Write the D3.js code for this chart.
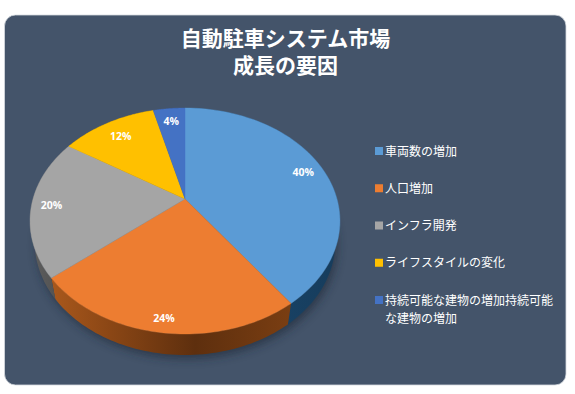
<!DOCTYPE html>
<html lang="ja"><head><meta charset="utf-8">
<script src="https://cdn.jsdelivr.net/npm/d3@7/dist/d3.min.js"></script>
<style>html,body{margin:0;padding:0;background:#fff}svg{display:block}</style>
</head><body><svg id="c" width="575" height="394"></svg>
<script>
const titleLines = ["自動駐車システム市場","成長の要因"];
const categories = ["車両数の増加","人口増加","インフラ開発","ライフスタイルの変化","持続可能な建物の増加持続可能な建物の増加"];
const legendLines = [["車両数の増加"],["人口増加"],["インフラ開発"],["ライフスタイルの変化"],["持続可能な建物の増加持続可能","な建物の増加"]];
const values = [40,24,20,12,4];
const colors = ["#5b9bd5","#ed7d31","#a5a5a5","#ffc000","#4472c4"];
const labelRadii = [0.86,0.91,0.87,0.81,0.84];

const FONT = "'Noto Sans CJK JP','Noto Sans',sans-serif";
const W=575,H=394;
const svg=d3.select("#c").attr("viewBox",[0,0,W,H]);
const defs=svg.append("defs");
defs.append("filter").attr("id","soft").attr("x","-20%").attr("y","-20%").attr("width","140%").attr("height","140%")
  .append("feGaussianBlur").attr("stdDeviation",5);
const wallStops=[
  [["0","#1c4a70"],["1","#163c5c"]],
  [["0","#a9581c"],["0.25","#8a4615"],["0.6","#5e2f0e"],["1","#7a3e12"]],
  [["0","#5e5e5e"],["1","#4e4e4e"]],
  [["0","#a07800"],["1","#a07800"]],
  [["0","#2c4a80"],["1","#2c4a80"]]
];

// panel
svg.append("rect").attr("x",4.5).attr("y",15).attr("width",561.5).attr("height",370).attr("rx",11)
  .attr("fill","#44546a").attr("stroke","#d5dae0").attr("stroke-width",0.8);

// perspective projection of the pie disc
const cx=185, cy=199, A=152, B=108.7, k=0.1947, depth=21, shrink=0.97;
const proj=(r,a)=>{const u=r*Math.sin(a),v=-r*Math.cos(a),s=1/(1-k*v);return [cx+A*u*s,cy+B*v*s];};
const low=p=>[cx+(p[0]-cx)*shrink,p[1]+depth];
const pie=d3.pie().sort(null).value(d=>d)(values);
const arcPts=(a0,a1)=>d3.range(0,61).map(i=>proj(1,a0+(a1-a0)*i/60));
const line=d3.line();

// drop shadow
const ringPts=arcPts(0,2*Math.PI);
svg.append("path").attr("d",line(ringPts.map(p=>{const q=low(p);return [q[0]+2,q[1]+4];}))+"Z")
  .attr("fill","#1c2735").attr("opacity",0.6).attr("filter","url(#soft)");

// side walls
const g=svg.append("g");
pie.forEach((d,i)=>{
  const id="w"+i, pts=arcPts(d.startAngle,d.endAngle);
  const xs=d3.extent(pts,p=>p[0]);
  const lg=defs.append("linearGradient").attr("id",id).attr("gradientUnits","userSpaceOnUse")
    .attr("x1",xs[0]).attr("x2",xs[1]).attr("y1",0).attr("y2",0);
  wallStops[i].forEach(s=>lg.append("stop").attr("offset",s[0]).attr("stop-color",s[1]));
  g.append("path").attr("d",line(pts.concat(pts.slice().reverse().map(low)))+"Z").attr("fill",`url(#${id})`);
});
// top faces
pie.forEach((d,i)=>{
  g.append("path").attr("d",line([[cx,cy]].concat(arcPts(d.startAngle,d.endAngle)))+"Z")
    .attr("fill",colors[i]).attr("stroke",colors[i]).attr("stroke-width",0.4);
});
// data labels
pie.forEach((d,i)=>{
  const p=proj(labelRadii[i],(d.startAngle+d.endAngle)/2);
  svg.append("text").attr("x",p[0]).attr("y",p[1]).attr("text-anchor","middle").attr("dominant-baseline","central")
    .attr("font-family","'Open Sans',sans-serif").attr("font-weight",700).attr("font-size",10.5)
    .attr("fill","#fff").text(d.value+"%");
});
// title: one text element, two lines
const title=svg.append("text").attr("text-anchor","middle").attr("font-family",FONT)
  .attr("font-weight",700).attr("font-size",21).attr("fill","#fff");
titleLines.forEach((t,i)=>{
  title.append("tspan").attr("x",285.5).attr("y",46+i*27).text(t);
});
// legend
const rowY=d3.scalePoint().domain(d3.range(5)).range([151,300]);
legendLines.forEach((ls,i)=>{
  const y=rowY(i);
  svg.append("rect").attr("x",375).attr("y",y-4).attr("width",8).attr("height",8).attr("fill",colors[i]);
  const t=svg.append("text").attr("font-family",FONT).attr("font-size",12).attr("fill","#fff");
  ls.forEach((s,j)=>{
    t.append("tspan").attr("x",385).attr("y",y+j*18+4.5).text(s);
  });
});
</script></body></html>
